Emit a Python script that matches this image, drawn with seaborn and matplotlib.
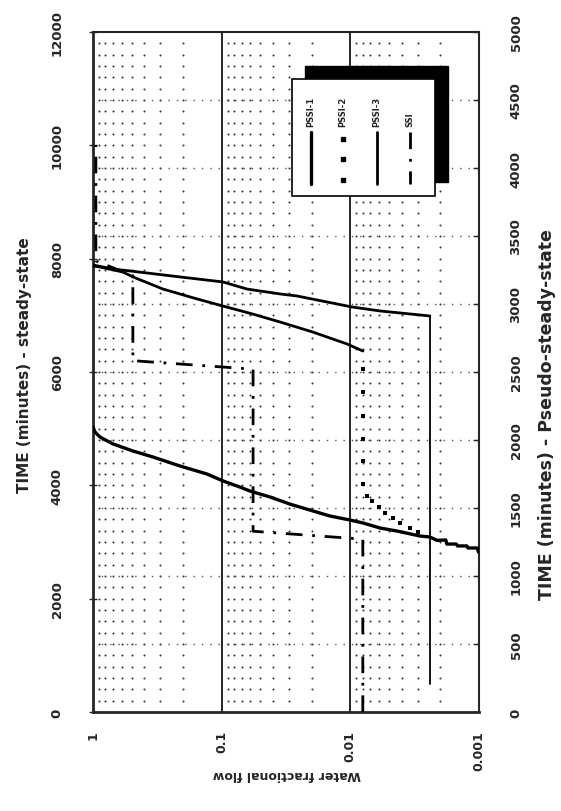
import numpy as np
import matplotlib
matplotlib.use("Agg")
import matplotlib.pyplot as plt
import seaborn as sns
from matplotlib.patches import Rectangle
from matplotlib.lines import Line2D
from matplotlib.ticker import NullLocator

# ---- data: water fractional flow vs. time -------------------------------
# PSSI runs are on the pseudo-steady-state time scale (min)
pssi1_fw = [0.00101, 0.00103, 0.00122, 0.00124, 0.00147, 0.00150, 0.00178, 0.00181,
            0.00212, 0.00241, 0.00288, 0.00435, 0.00589, 0.00798, 0.0101, 0.0144,
            0.0195, 0.0295, 0.0421, 0.0603, 0.0721, 0.0977, 0.130, 0.211, 0.342,
            0.489, 0.699, 0.883, 0.965, 1.0]
pssi1_t = [1176, 1206, 1206, 1221, 1221, 1235, 1235, 1265, 1262, 1287, 1294, 1331,
           1353, 1390, 1412, 1441, 1478, 1529, 1581, 1625, 1654, 1699, 1750, 1809,
           1875, 1919, 1971, 2022, 2059, 2096]

# sparse samples (plotted as markers) followed by densely sampled tail
pssi2_fw = [0.00298, 0.00344, 0.00412, 0.00467, 0.00538, 0.0060, 0.00679, 0.00743,
            0.00798, 0.00798, 0.00798, 0.00798, 0.00798, 0.00798,
            0.00798, 0.0106, 0.0196, 0.0353, 0.0573, 0.0977, 0.155, 0.286, 0.489,
            0.585, 0.882, 1.0]
pssi2_t = [1324, 1353, 1390, 1426, 1463, 1507, 1551, 1588,
           1676, 1846, 2007, 2176, 2353, 2522,
           2654, 2706, 2794, 2868, 2926, 2985, 3037, 3110, 3199, 3235, 3272, 3279]
pssi2_sparse = 14

pssi3_fw = [0.00241, 0.00241, 0.00589, 0.0097, 0.026, 0.0352, 0.0636, 0.0977, 0.211,
            0.516, 0.699, 1.0]
pssi3_t = [206, 2912, 2949, 2978, 3059, 3074, 3110, 3162, 3199, 3243, 3257, 3287]

# SSI run is on the steady-state time scale (min)
ssi_fw = [0.008, 0.008, 0.057, 0.057, 0.49, 0.49, 0.95, 0.95]
ssi_t = [0, 3050, 3190, 6050, 6200, 7700, 7960, 10000]

fw_ticks = [1, 0.1, 0.01, 0.001]
fw_labels = ["1", "0.1", "0.01", "0.001"]
steady_ticks = list(range(0, 12001, 2000))
pseudo_ticks = list(range(0, 5001, 500))

# ---- figure --------------------------------------------------------------
sns.set_style("ticks")
plt.rcParams["font.family"] = ["DejaVu Sans"]

W, H = 561, 812
fig = plt.figure(figsize=(W / 100, H / 100), dpi=100)
ax = fig.add_axes([93 / W, 1 - 713 / H, 386 / W, 680 / H])
ax.set_xscale("log")
ax.set_xlim(1, 0.001)
ax.set_ylim(0, 12000)
ax2 = ax.twinx()
ax2.set_ylim(0, 5000)

# dotted background grid: dots at minor log positions x every 200 steady min
minor_cols = [k * d for d in (0.001, 0.01, 0.1) for k in range(2, 10)]
rows = np.arange(200, 12000, 200)
gx, gy = np.meshgrid(minor_cols, rows)
ax.scatter(gx.ravel(), gy.ravel(), s=2.2, color="#3a3a3a", linewidths=0, zorder=1)
for t in np.arange(1200, 12000, 1200):
    ax.axhline(t, color="#555555", lw=1.0, ls=(0, (1, 5)), zorder=1)
for d in (0.1, 0.01):
    ax.axvline(d, color="black", lw=1.2, zorder=1)

# SSI on the steady-state axis
ssi_style = (0, (6, 3.5, 1, 3.5))
sns.lineplot(x=ssi_fw, y=ssi_t, ax=ax, sort=False, estimator=None,
             color="black", lw=2.0, linestyle=ssi_style, zorder=3)

# PSSI runs on the pseudo-steady-state axis
sns.lineplot(x=pssi1_fw, y=pssi1_t, ax=ax2, sort=False, estimator=None,
             color="black", lw=2.4)
sns.lineplot(x=pssi3_fw[:2], y=pssi3_t[:2], ax=ax2, sort=False, estimator=None,
             color="black", lw=1.3)
sns.lineplot(x=pssi3_fw[1:], y=pssi3_t[1:], ax=ax2, sort=False, estimator=None,
             color="black", lw=2.0)
sns.scatterplot(x=pssi2_fw[:pssi2_sparse], y=pssi2_t[:pssi2_sparse], ax=ax2,
                marker="s", s=9, color="black", linewidth=0)
sns.lineplot(x=pssi2_fw[pssi2_sparse:], y=pssi2_t[pssi2_sparse:], ax=ax2,
             sort=False, estimator=None, color="black", lw=2.0)

# ---- axes, ticks and labels ---------------------------------------------
for a in (ax, ax2):
    a.set_xlabel("")
    a.set_ylabel("")
ax.set_xlim(1, 0.001)
ax.set_ylim(0, 12000)
ax2.set_ylim(0, 5000)

ax.set_xticks(fw_ticks)
ax.set_xticklabels(fw_labels)
ax.xaxis.set_minor_locator(NullLocator())
ax.tick_params(axis="x", length=0, pad=13)
plt.setp(ax.get_xticklabels(), rotation=90, va="top", ha="center",
         fontsize=9, fontweight="bold")

ax.set_yticks(steady_ticks)
ax.set_yticklabels([str(v) for v in steady_ticks])
ax.tick_params(axis="y", direction="inout", length=6, width=1, pad=18)
plt.setp(ax.get_yticklabels(), rotation=90, va="center", fontsize=9.5, fontweight="bold")

ax2.set_yticks(pseudo_ticks)
ax2.set_yticklabels([str(v) for v in pseudo_ticks])
ax2.tick_params(axis="y", direction="in", length=4, width=1, pad=22)
plt.setp(ax2.get_yticklabels(), rotation=90, va="center", fontsize=9.5, fontweight="bold")

ax.spines["left"].set_linewidth(2.0)
ax.spines["bottom"].set_linewidth(2.0)
ax.spines["top"].set_linewidth(1.5)
ax.spines["right"].set_linewidth(1.5)
for s in ax2.spines.values():
    s.set_visible(False)

fig.text(25 / W, 1 - 365 / H, "TIME (minutes) - steady-state", rotation=90,
         ha="center", va="center", fontsize=11, fontweight="bold")
fig.text(547 / W, 1 - 415 / H, "TIME (minutes) - Pseudo-steady-state", rotation=90,
         ha="center", va="center", fontsize=12.5, fontweight="bold")
fig.text(287 / W, 1 - 775 / H, "Water fractional flow", rotation=180,
         ha="center", va="center", fontsize=9, fontweight="bold")

# ---- legend box with drop shadow ----------------------------------------
tr = ax2.transAxes
ax2.add_patch(Rectangle((0.5492, 0.7794), 0.3705, 0.1706, transform=tr,
                        facecolor="black", edgecolor="black", zorder=5, clip_on=False))
ax2.add_patch(Rectangle((0.5155, 0.7588), 0.3705, 0.1721, transform=tr,
                        facecolor="white", edgecolor="black", lw=1.2, zorder=6,
                        clip_on=False))
entries = [("PSSI-1", 0.565, dict(lw=2.4, ls="-")),
           ("PSSI-2", 0.648, None),
           ("PSSI-3", 0.736, dict(lw=2.0, ls="-")),
           ("SSI", 0.821, dict(lw=2.0, ls=ssi_style))]
for name, xc, style in entries:
    ax2.text(xc, 0.862, name, transform=tr, rotation=90, ha="center", va="bottom",
             fontsize=6, fontweight="bold", zorder=7)
    if style is None:
        ax2.add_line(Line2D([xc] * 3, [0.842, 0.813, 0.782], transform=tr,
                            ls="none", marker="s", ms=3, color="black", zorder=7))
    else:
        ax2.add_line(Line2D([xc, xc], [0.853, 0.776], transform=tr, color="black",
                            zorder=7, **style))

fig.savefig("out.png", dpi=100, facecolor="white")
